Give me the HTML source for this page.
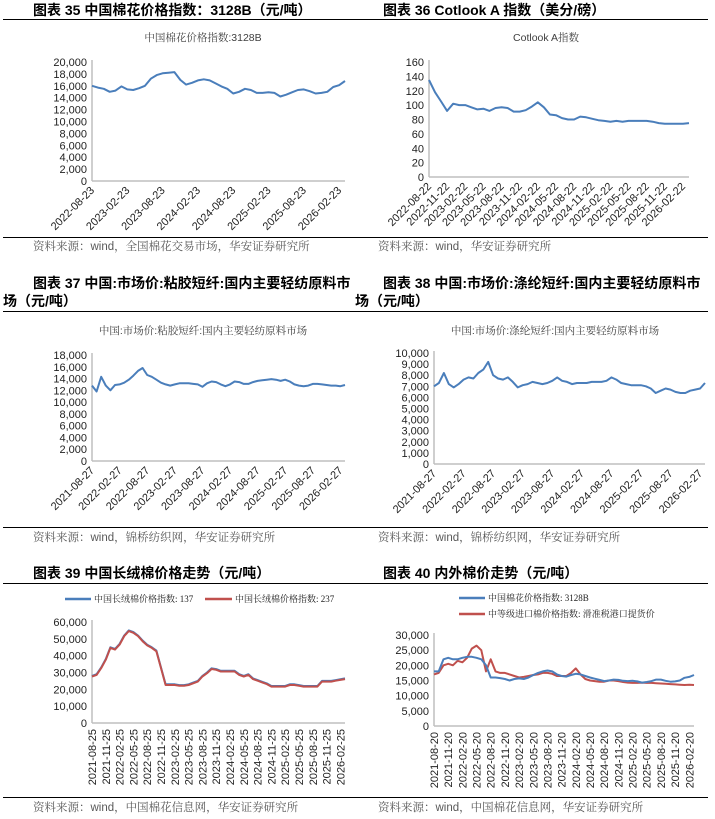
<!DOCTYPE html>
<html><head><meta charset="utf-8"><style>
body{margin:0;background:#fff;width:715px;height:819px;overflow:hidden}
svg{display:block}
.h{font-family:"Liberation Sans","Noto Sans CJK SC",sans-serif;font-weight:bold;font-size:14px;fill:#000}
.ct{font-family:"Liberation Sans","Noto Serif CJK SC",serif;font-size:10.5px;fill:#404040}
.src{font-family:"Liberation Sans","Noto Serif CJK SC",serif;font-size:11.5px;fill:#595959}
.tk{font-family:"Liberation Sans",sans-serif;font-size:11px;fill:#222}
.lg{font-family:"Liberation Serif","Noto Serif CJK SC",serif;font-size:9px;fill:#222}
</style></head><body>
<svg id="page" width="715" height="819">
<g>
<text class="h" x="33" y="15">图表 35 中国棉花价格指数：3128B（元/吨）</text>
<line x1="3" y1="19.5" x2="360" y2="19.5" stroke="#000" stroke-width="1"/>
<text class="ct" x="203" y="41" text-anchor="middle">中国棉花价格指数:3128B</text>
<line x1="3" y1="237.5" x2="360" y2="237.5" stroke="#000"/>
<text class="src" x="33" y="250">资料来源：wind，全国棉花交易市场，华安证券研究所</text>
</g>
<g>
<text class="h" x="383" y="15">图表 36 Cotlook A 指数（美分/磅）</text>
<line x1="360" y1="19.5" x2="708" y2="19.5" stroke="#000"/>
<text class="ct" x="546" y="41" text-anchor="middle">Cotlook A指数</text>
<line x1="360" y1="237.5" x2="708" y2="237.5" stroke="#000"/>
<text class="src" x="378" y="250">资料来源：wind，华安证券研究所</text>
</g>
<g>
<text class="h" x="33" y="288">图表 37 中国:市场价:粘胶短纤:国内主要轻纺原料市</text>
<text class="h" x="3" y="306">场（元/吨）</text>
<line x1="3" y1="311.5" x2="360" y2="311.5" stroke="#000"/>
<text class="ct" x="203" y="334" text-anchor="middle">中国:市场价:粘胶短纤:国内主要轻纺原料市场</text>
<line x1="3" y1="527.5" x2="360" y2="527.5" stroke="#000"/>
<text class="src" x="33" y="541">资料来源：wind，锦桥纺织网，华安证券研究所</text>
</g>
<g>
<text class="h" x="383" y="288">图表 38 中国:市场价:涤纶短纤:国内主要轻纺原料市</text>
<text class="h" x="355" y="306">场（元/吨）</text>
<line x1="355" y1="311.5" x2="708" y2="311.5" stroke="#000"/>
<text class="ct" x="555" y="334" text-anchor="middle">中国:市场价:涤纶短纤:国内主要轻纺原料市场</text>
<line x1="360" y1="527.5" x2="708" y2="527.5" stroke="#000"/>
<text class="src" x="378" y="541">资料来源：wind，锦桥纺织网，华安证券研究所</text>
</g>
<g>
<text class="h" x="33" y="578">图表 39 中国长绒棉价格走势（元/吨）</text>
<line x1="3" y1="583.5" x2="360" y2="583.5" stroke="#000"/>
<line x1="65" y1="599" x2="91" y2="599" stroke="#4a7ebb" stroke-width="2.5"/>
<text class="lg" x="94" y="602">中国长绒棉价格指数: 137</text>
<line x1="205" y1="599" x2="232" y2="599" stroke="#c0504d" stroke-width="2.5"/>
<text class="lg" x="235" y="602">中国长绒棉价格指数: 237</text>
<line x1="3" y1="797.5" x2="360" y2="797.5" stroke="#000"/>
<text class="src" x="33" y="811">资料来源：wind，中国棉花信息网，华安证券研究所</text>
</g>
<g>
<text class="h" x="383" y="578">图表 40 内外棉价走势（元/吨）</text>
<line x1="360" y1="583.5" x2="708" y2="583.5" stroke="#000"/>
<line x1="459" y1="598" x2="485" y2="598" stroke="#4a7ebb" stroke-width="2.5"/>
<text class="lg" x="488" y="601">中国棉花价格指数: 3128B</text>
<line x1="459" y1="614" x2="485" y2="614" stroke="#c0504d" stroke-width="2.5"/>
<text class="lg" x="488" y="617">中等级进口棉价格指数: 滑准税港口提货价</text>
<line x1="360" y1="797.5" x2="708" y2="797.5" stroke="#000"/>
<text class="src" x="378" y="811">资料来源：wind，中国棉花信息网，华安证券研究所</text>
</g>
</svg>
<script>
const p35Labels=["2022-08-23","2023-02-23","2023-08-23","2024-02-23","2024-08-23","2025-02-23","2025-08-23","2026-02-23"];
const p35Values=[16000,15700,15500,15000,15200,15900,15400,15300,15600,16000,17200,17800,18100,18200,18300,17000,16200,16500,16900,17100,16900,16400,15900,15500,14700,15000,15500,15300,14800,14800,14900,14800,14200,14500,14900,15300,15400,15100,14700,14800,15000,15800,16100,16800];
const p36Labels=["2022-08-22","2022-11-22","2023-02-22","2023-05-22","2023-08-22","2023-11-22","2024-02-22","2024-05-22","2024-08-22","2024-11-22","2025-02-22","2025-05-22","2025-08-22","2025-11-22","2026-02-22"];
const p36Values=[135,118,105,92,102,100,100,97,94,95,92,96,97,96,91,91,93,98,104,97,87,86,82,80,80,84,83,81,79,78,77,78,77,78,78,78,78,77,75,74,74,74,74,75];
const p37Labels=["2021-08-27","2022-02-27","2022-08-27","2023-02-27","2023-08-27","2024-02-27","2024-08-27","2025-02-27","2025-08-27","2026-02-27"];
const p37Values=[12800,11800,14300,12800,12000,12900,13000,13300,13800,14500,15300,15800,14600,14300,13800,13300,13000,12800,13000,13200,13200,13200,13100,13000,12600,13200,13500,13400,13000,12700,13000,13500,13400,13100,13100,13400,13600,13700,13800,13900,13800,13600,13800,13500,13000,12800,12700,12800,13100,13100,13000,12900,12800,12800,12700,12900];
const p38Labels=p37Labels;
const p38Values=[7000,7300,8200,7200,6900,7200,7600,7800,7700,8200,8500,9200,8000,7700,7600,7800,7400,6900,7100,7200,7400,7300,7200,7300,7500,7800,7500,7400,7200,7300,7300,7300,7400,7400,7400,7500,7800,7600,7300,7200,7100,7100,7100,7000,6800,6400,6600,6800,6700,6500,6400,6400,6600,6700,6800,7300];
const p39Labels=["2021-08-25","2021-11-25","2022-02-25","2022-05-25","2022-08-25","2022-11-25","2023-02-25","2023-05-25","2023-08-25","2023-11-25","2024-02-25","2024-05-25","2024-08-25","2024-11-25","2025-02-25","2025-05-25","2025-08-25","2025-11-25","2026-02-25"];
const p39Values137=[28000,29000,33000,38000,45000,44000,47000,52000,55000,54000,52000,49000,46500,45000,43000,33000,23000,23000,23000,22500,22500,23000,24000,25000,28000,30000,32500,32000,31000,31000,31000,31000,29000,28000,29000,26500,25500,24500,23500,22000,22000,22000,22000,23000,23000,22500,22000,22000,22000,22000,25000,25000,25000,25500,26000,26500];
const p39Values237=[27600,28600,32600,37600,44600,43600,46600,51600,54600,53600,51600,48600,46100,44600,42600,32600,22600,22600,22600,22100,22100,22600,23600,24600,27600,29600,32100,31600,30600,30600,30600,30600,28600,27600,28600,26100,25100,24100,23100,21600,21600,21600,21600,22600,22600,22100,21600,21600,21600,21600,24600,24600,24600,25100,25600,26100];
const p40Labels=["2021-08-20","2021-11-20","2022-02-20","2022-05-20","2022-08-20","2022-11-20","2023-02-20","2023-05-20","2023-08-20","2023-11-20","2024-02-20","2024-05-20","2024-08-20","2024-11-20","2025-02-20","2025-05-20","2025-08-20","2025-11-20","2026-02-20"];
const p40Domestic=[18000,18000,22000,22500,22000,22000,22500,22800,22800,22500,22000,20000,16000,16000,15800,15500,15000,15500,15700,15500,16000,16800,17500,18000,18300,18000,17000,16500,16300,16800,17200,17000,16500,16000,15600,15200,14800,15000,15300,15200,14900,14800,14900,14700,14300,14500,14800,15300,15300,14900,14600,14700,15000,15900,16200,16800];
const p40Import=[17000,17500,20000,20500,20000,21500,21000,22500,25500,26500,25000,18000,22000,18000,17500,17500,17000,16500,16000,16200,16500,16800,17000,17500,17500,17200,16500,16500,16500,17500,19000,17000,15500,15000,14800,14600,14600,15000,15000,14800,14500,14300,14200,14200,14300,14200,14200,14100,14000,13900,13800,13700,13600,13500,13600,13500];

const NS="http://www.w3.org/2000/svg";
const svg=document.getElementById('page');
function mk(tag,attrs,parent){const e=document.createElementNS(NS,tag);for(const k in attrs)e.setAttribute(k,attrs[k]);(parent||svg).appendChild(e);return e;}
function fmt(v){return v.toLocaleString('en-US');}
function drawChart(c){
  const g=mk('g',{});
  
  
  const n=c.series[0].values.length;
  const xs=i=>c.x0+i/(n-1)*(c.x1-c.x0);
  const ys=v=>c.yb-(v/c.max)*(c.yb-c.yt);
  for(let v=0;v<=c.max;v+=c.step){
    const t=mk('text',{x:c.x0-5,y:ys(v)+4,'text-anchor':'end',class:'tk'},g);
    t.textContent=fmt(v);
    
    
  }
  mk('line',{x1:c.x0,y1:c.yt-2,x2:c.x0,y2:c.yb,stroke:'#bfbfbf','stroke-width':1.5},g);
  mk('line',{x1:c.x0,y1:c.yb,x2:c.x1,y2:c.yb,stroke:'#bfbfbf','stroke-width':1.5},g);
  c.labels.forEach((lab,k)=>{
    const x=xs(k*c.every);
    let t;
    if(c.rot===90){t=mk('text',{x:x+4,y:c.yb+6,'text-anchor':'end',class:'tk',transform:`rotate(-90 ${x+4} ${c.yb+6})`},g);}
    else{t=mk('text',{x:x+3,y:c.yb+10,'text-anchor':'end',class:'tk',transform:`rotate(-45 ${x+3} ${c.yb+10})`},g);}
    t.textContent=lab;
    
    
  });
  c.series.forEach(s=>{
    const d=s.values.map((v,i)=>(i?'L':'M')+xs(i).toFixed(1)+' '+ys(v).toFixed(1)).join(' ');
    const p=mk('path',{d:d,fill:'none',stroke:s.color,'stroke-width':2,'stroke-linejoin':'round'},g);
    
    
  });
}
const B='#4a7ebb',R='#c0504d';
drawChart({name:'chart-35',x0:92,x1:345,yt:62,yb:181,max:20000,step:2000,labels:p35Labels,every:6,rot:45,series:[{values:p35Values,color:B,name:'series-3128b'}]});
drawChart({name:'chart-36',x0:429,x1:689,yt:62,yb:177,max:160,step:20,labels:p36Labels,every:3,rot:45,series:[{values:p36Values,color:B,name:'series-cotlook-a'}]});
drawChart({name:'chart-37',x0:92,x1:345,yt:355,yb:461,max:18000,step:2000,labels:p37Labels,every:6,rot:45,series:[{values:p37Values,color:B,name:'series-viscose'}]});
drawChart({name:'chart-38',x0:434,x1:705,yt:353,yb:464,max:10000,step:1000,labels:p38Labels,every:6,rot:45,series:[{values:p38Values,color:B,name:'series-polyester'}]});
drawChart({name:'chart-39',x0:92,x1:345,yt:622,yb:723,max:60000,step:10000,labels:p39Labels,every:3,rot:90,series:[{values:p39Values137,color:B,name:'series-137'},{values:p39Values237,color:R,name:'series-237'}]});
drawChart({name:'chart-40',x0:434,x1:694,yt:635,yb:726,max:30000,step:5000,labels:p40Labels,every:3,rot:90,series:[{values:p40Import,color:R,name:'series-import'},{values:p40Domestic,color:B,name:'series-domestic'}]});
</script>
</body></html>
